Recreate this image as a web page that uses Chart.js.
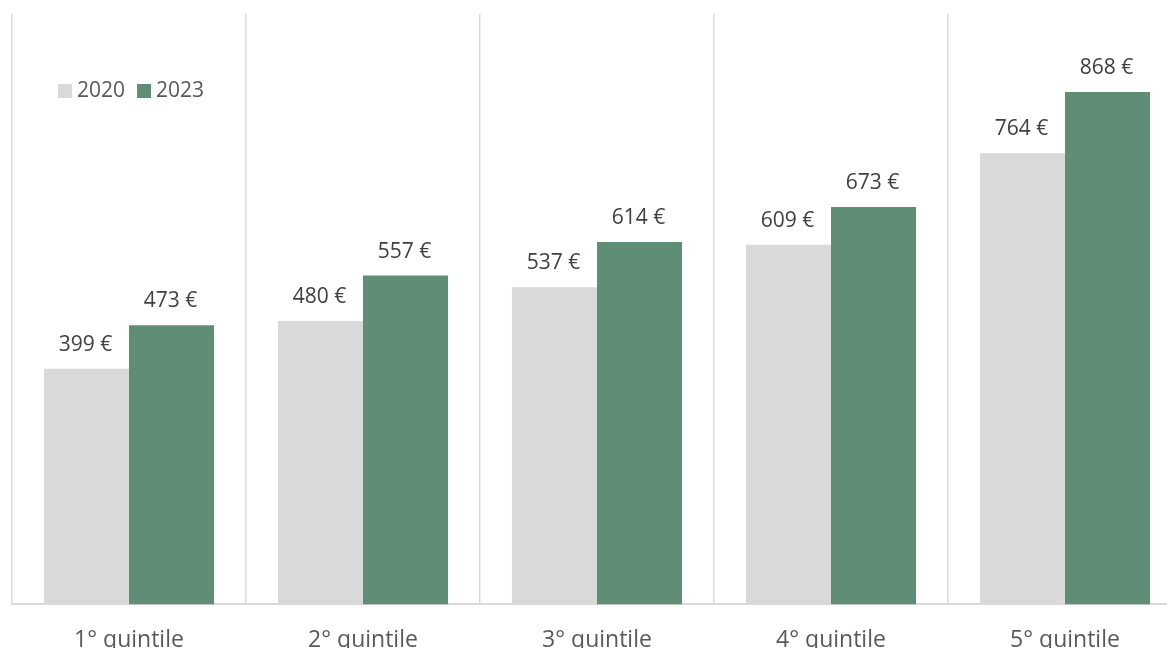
<!DOCTYPE html>
<html>
<head>
<meta charset="utf-8">
<script src="https://cdn.jsdelivr.net/npm/chart.js@4"></script>
<style>
  html, body { margin: 0; padding: 0; background: #fff; overflow: hidden; }
  #wrap { width: 1183px; height: 676px; }
</style>
</head>
<body>
<div id="wrap"><canvas id="chart"></canvas></div>
<script>
  // Chart data
  const categories = ['1° quintile', '2° quintile', '3° quintile', '4° quintile', '5° quintile'];
  const seriesLabels = ['2020', '2023'];
  const values2020 = [399, 480, 537, 609, 764];
  const values2023 = [473, 557, 614, 673, 868];
  const seriesColors = ['#d9d9d9', '#5f8d76'];

  const FONT = "'Open Sans', 'Liberation Sans', sans-serif";

  // value labels above each bar
  const barLabels = {
    id: 'barLabels',
    afterDatasetsDraw(chart) {
      const ctx = chart.ctx;
      ctx.save();
      ctx.font = '21px ' + FONT;
      ctx.fillStyle = '#404040';
      ctx.textAlign = 'center';
      ctx.textBaseline = 'alphabetic';
      chart.data.datasets.forEach((ds, i) => {
        chart.getDatasetMeta(i).data.forEach((bar, j) => {
          ctx.fillText(ds.data[j] + ' €', bar.x - 1, bar.y - 18);
        });
      });
      ctx.restore();
    }
  };

  // legend drawn inside the plot, top-left
  const insideLegend = {
    id: 'insideLegend',
    afterDraw(chart) {
      const ctx = chart.ctx;
      ctx.save();
      ctx.font = '21px ' + FONT;
      ctx.textBaseline = 'middle';
      ctx.textAlign = 'left';
      let x = 58;
      const y = 91;
      chart.data.datasets.forEach(ds => {
        ctx.fillStyle = ds.backgroundColor;
        ctx.fillRect(x, y - 7, 14, 14);
        ctx.fillStyle = '#595959';
        ctx.fillText(ds.label, x + 19, y);
        x += 19 + ctx.measureText(ds.label).width + 12;
      });
      ctx.restore();
    }
  };

  new Chart(document.getElementById('chart'), {
    type: 'bar',
    data: {
      labels: categories,
      datasets: [
        { label: seriesLabels[0], data: values2020, backgroundColor: seriesColors[0] },
        { label: seriesLabels[1], data: values2023, backgroundColor: seriesColors[1] }
      ]
    },
    options: {
      responsive: true,
      maintainAspectRatio: false,
      animation: false,
      layout: { padding: { left: 12, right: 1, top: 14, bottom: 0 } },
      categoryPercentage: 0.727,
      barPercentage: 1,
      plugins: {
        legend: { display: false },
        tooltip: { enabled: false }
      },
      scales: {
        x: {
          grid: { display: true, offset: true, color: '#d9d9d9', lineWidth: 1.5, drawTicks: false },
          border: { display: true, color: '#d9d9d9', width: 2 },
          ticks: { color: '#595959', font: { family: FONT, size: 23 }, padding: 22 }
        },
        y: {
          display: false,
          min: 0,
          max: 1000
        }
      }
    },
    plugins: [barLabels, insideLegend]
  });
</script>
</body>
</html>
